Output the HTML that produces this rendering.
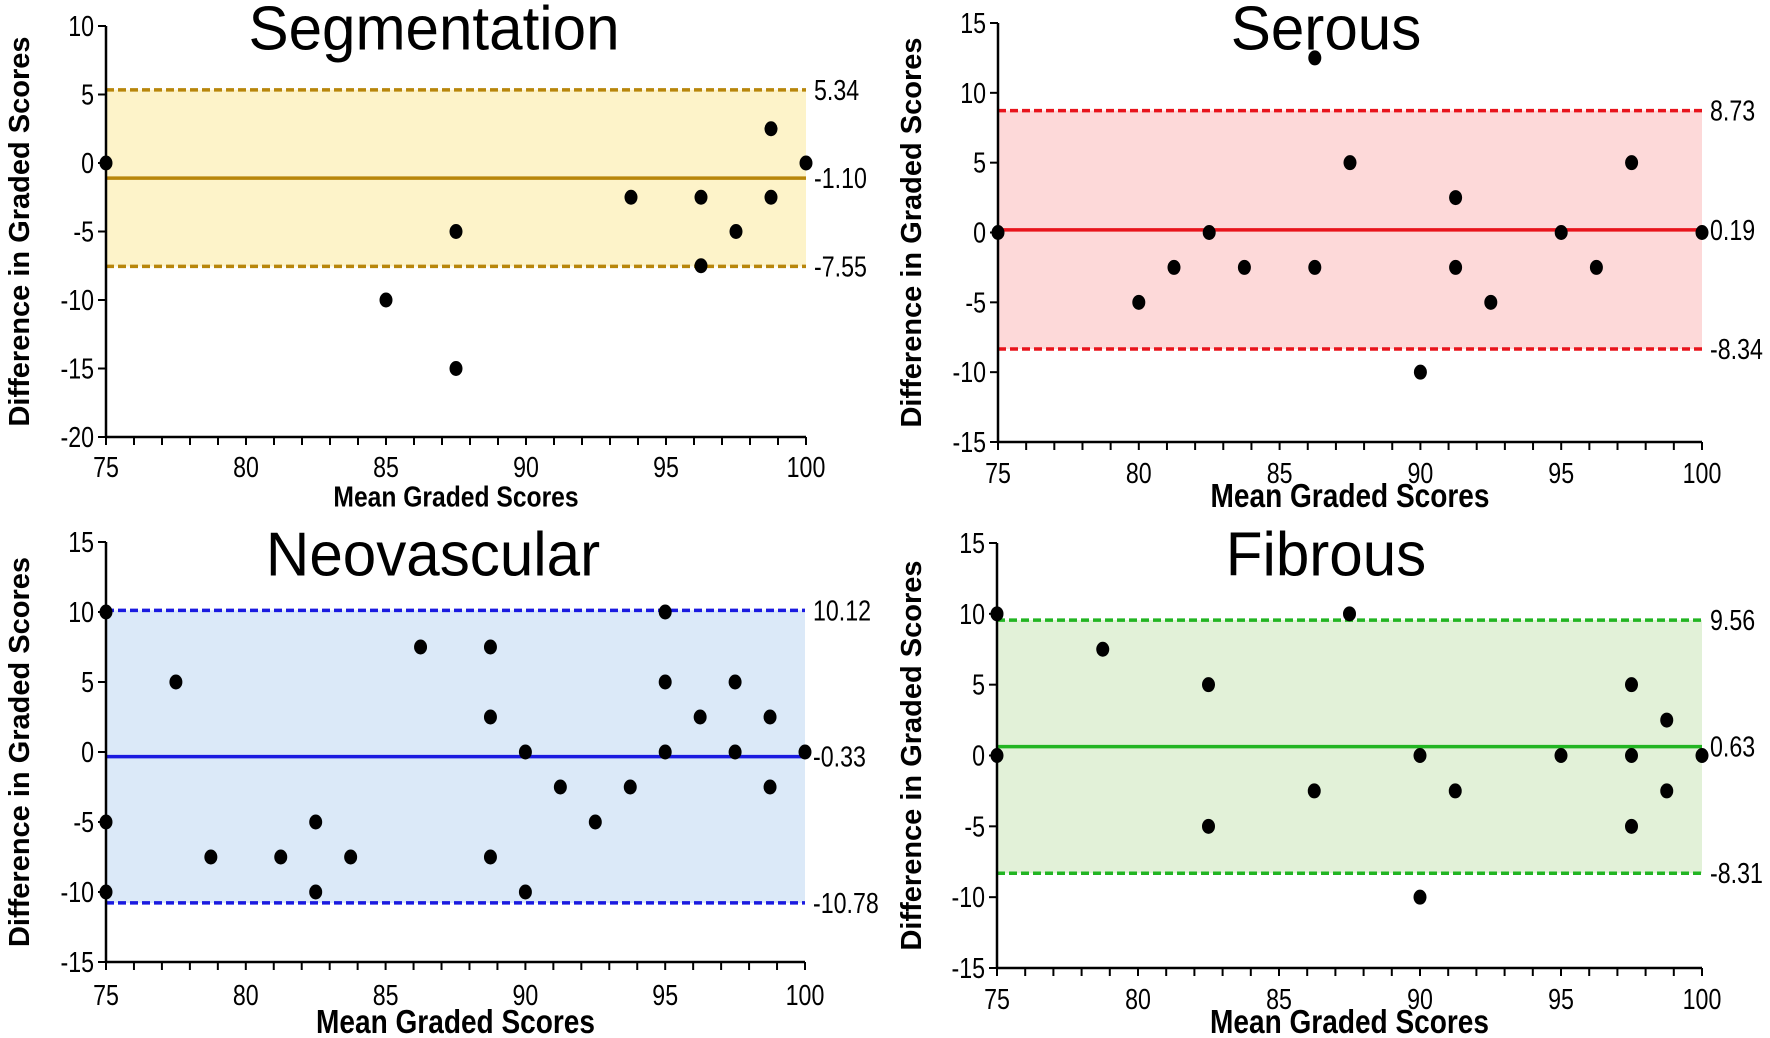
<!DOCTYPE html>
<html><head><meta charset="utf-8"><style>
html,body{margin:0;padding:0;background:#fff;}
svg{display:block;}
text{font-family:"Liberation Sans",Arial,sans-serif;fill:#000;}
</style></head><body>
<svg id="s" width="1770" height="1038" viewBox="0 0 1770 1038" xmlns="http://www.w3.org/2000/svg"></svg>
<script>
const S=document.getElementById('s');
let out='';
function T(x,y,str,size,opts){opts=opts||{};const sx=opts.sx||0.8;const anchor=opts.anchor||'middle';const w=opts.bold?'bold':'normal';
 out+=`<text transform="translate(${x},${y}) scale(${sx},1)${opts.rot?' rotate(-90)':''}" font-size="${size}" font-weight="${w}" text-anchor="${anchor}" dominant-baseline="central">${str}</text>`;}
function panel(p){
 const {x0,x1,yTop,yBot,ymax,ymin,fill,col,lines,labels,pts,title,tx,ty,titleY,xlabY,xtitY,ytitX,xtSize}=p;
 const X=v=>x0+(v-75)/25*(x1-x0);
 const Y=v=>yTop+(ymax-v)/(ymax-ymin)*(yBot-yTop);
 out+=`<rect x="${x0}" y="${Y(lines[0])}" width="${x1-x0}" height="${Y(lines[2])-Y(lines[0])}" fill="${fill}"/>`;
 out+=`<line x1="${x0}" x2="${x1}" y1="${Y(lines[0])}" y2="${Y(lines[0])}" stroke="${col}" stroke-width="3.5" stroke-dasharray="8,4"/>`;
 out+=`<line x1="${x0}" x2="${x1}" y1="${Y(lines[2])}" y2="${Y(lines[2])}" stroke="${col}" stroke-width="3.5" stroke-dasharray="8,4"/>`;
 out+=`<line x1="${x0}" x2="${x1}" y1="${Y(lines[1])}" y2="${Y(lines[1])}" stroke="${col}" stroke-width="3.5"/>`;
 out+=`<line x1="${x0}" x2="${x0}" y1="${yTop}" y2="${yBot}" stroke="#000" stroke-width="2.5"/>`;
 out+=`<line x1="${x0}" x2="${x1}" y1="${yBot}" y2="${yBot}" stroke="#000" stroke-width="2.5"/>`;
 for(let v=ymin;v<=ymax;v+=5){out+=`<line x1="${x0-8}" x2="${x0}" y1="${Y(v)}" y2="${Y(v)}" stroke="#000" stroke-width="2"/>`;T(x0-12,Y(v),v,29,{anchor:'end',sx:0.8});}
 for(let v=75;v<=100;v++){out+=`<line x1="${X(v)}" x2="${X(v)}" y1="${yBot}" y2="${yBot+8}" stroke="#000" stroke-width="2"/>`; if(v%5==0)T(X(v),xlabY,v,29,{sx:0.8});}
 lines.forEach((l,i)=>T(x1+8,Y(l),labels[i],29,{anchor:'start',sx:0.8}));
 pts.forEach(([a,b])=>{out+=`<ellipse cx="${X(a)}" cy="${Y(b)}" rx="6.5" ry="7.5" fill="#000"/>`;});
 T(tx,titleY,title,62,{sx:0.97});
 T((x0+x1)/2,xtitY,'Mean Graded Scores',xtSize,{bold:true,sx:0.85});
 T(ytitX,(yTop+yBot)/2,'Difference in Graded Scores',29,{bold:true,sx:1,rot:true});
}
panel({x0:106,x1:806,yTop:26,yBot:437,ymax:10,ymin:-20,fill:'#fdf3c9',col:'#b8860b',lines:[5.34,-1.10,-7.55],labels:['5.34','-1.10','-7.55'],
 pts:[[75,0],[85,-10],[87.5,-5],[87.5,-15],[93.75,-2.5],[96.25,-2.5],[96.25,-7.5],[97.5,-5],[98.75,2.5],[98.75,-2.5],[100,0]],
 title:'Segmentation',tx:434,titleY:28,xlabY:467,xtitY:497,ytitX:20,xtSize:29});
panel({x0:998,x1:1702,yTop:23,yBot:442,ymax:15,ymin:-15,fill:'#fdd9d9',col:'#e8141c',lines:[8.73,0.19,-8.34],labels:['8.73','0.19','-8.34'],
 pts:[[75,0],[80,-5],[81.25,-2.5],[82.5,0],[83.75,-2.5],[86.25,12.5],[86.25,-2.5],[87.5,5],[90,-10],[91.25,2.5],[91.25,-2.5],[92.5,-5],[95,0],[96.25,-2.5],[97.5,5],[100,0]],
 title:'Serous',tx:1326,titleY:28,xlabY:473,xtitY:496,ytitX:912,xtSize:33});
panel({x0:106,x1:805,yTop:542,yBot:962,ymax:15,ymin:-15,fill:'#dbe9f8',col:'#1a1ae0',lines:[10.12,-0.33,-10.78],labels:['10.12','-0.33','-10.78'],
 pts:[[75,10],[75,-5],[75,-10],[77.5,5],[78.75,-7.5],[81.25,-7.5],[82.5,-5],[82.5,-10],[83.75,-7.5],[86.25,7.5],[88.75,7.5],[88.75,2.5],[88.75,-7.5],[90,0],[90,-10],[91.25,-2.5],[92.5,-5],[93.75,-2.5],[95,10],[95,5],[95,0],[96.25,2.5],[97.5,5],[97.5,0],[98.75,2.5],[98.75,-2.5],[100,0]],
 title:'Neovascular',tx:433,titleY:554,xlabY:995,xtitY:1022,ytitX:20,xtSize:33});
panel({x0:997,x1:1702,yTop:543,yBot:968,ymax:15,ymin:-15,fill:'#e2f1d8',col:'#22b522',lines:[9.56,0.63,-8.31],labels:['9.56','0.63','-8.31'],
 pts:[[75,10],[75,0],[78.75,7.5],[82.5,5],[82.5,-5],[86.25,-2.5],[87.5,10],[90,0],[90,-10],[91.25,-2.5],[95,0],[97.5,5],[97.5,0],[97.5,-5],[98.75,2.5],[98.75,-2.5],[100,0]],
 title:'Fibrous',tx:1326,titleY:554,xlabY:999,xtitY:1022,ytitX:912,xtSize:33});
S.innerHTML=out;
</script>
</body></html>
